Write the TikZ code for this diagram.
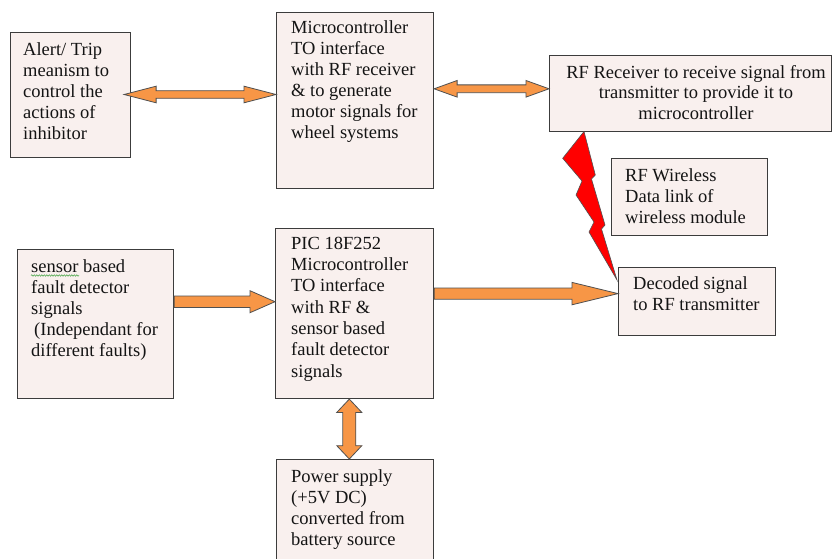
\documentclass[tikz,border=0pt]{standalone}
\usepackage{fontspec}
\setmainfont{Liberation Serif}
\usetikzlibrary{calc,decorations.pathmorphing}
\definecolor{boxfill}{RGB}{249,240,238}
\definecolor{boxline}{RGB}{60,60,60}
\definecolor{orng}{RGB}{247,150,70}
\definecolor{arrline}{RGB}{80,80,80}
\definecolor{txt}{RGB}{20,20,20}
\definecolor{spell}{RGB}{60,160,60}
% double-headed horizontal fat arrow: #1 start coord, #2 end coord, #3 image y, #4 shaft half, #5 head half, #6 head length
\newcommand\fatDouble[6]{%
 \filldraw[fat] let \p1=#1, \p2=#2 in
 (\x1,{-#3pt}) -- ({\x1+#6pt},{-(#3-#5)*1pt}) -- ({\x1+#6pt},{-(#3-#4)*1pt})
 -- ({\x2-#6pt},{-(#3-#4)*1pt}) -- ({\x2-#6pt},{-(#3-#5)*1pt}) -- (\x2,{-#3pt})
 -- ({\x2-#6pt},{-(#3+#5)*1pt}) -- ({\x2-#6pt},{-(#3+#4)*1pt})
 -- ({\x1+#6pt},{-(#3+#4)*1pt}) -- ({\x1+#6pt},{-(#3+#5)*1pt}) -- cycle;}
% single-headed fat arrow pointing right
\newcommand\fatRight[6]{%
 \filldraw[fat] let \p1=#1, \p2=#2 in
 (\x1,{-(#3-#4)*1pt}) -- ({\x2-#6pt},{-(#3-#4)*1pt}) -- ({\x2-#6pt},{-(#3-#5)*1pt})
 -- (\x2,{-#3pt}) -- ({\x2-#6pt},{-(#3+#5)*1pt}) -- ({\x2-#6pt},{-(#3+#4)*1pt})
 -- (\x1,{-(#3+#4)*1pt}) -- cycle;}
\begin{document}
\begin{tikzpicture}[x=1pt,y=-1pt,
  blockbox/.style={draw=boxline, fill=boxfill, line width=1.1pt, inner sep=0pt, anchor=north west},
  lbl/.style={anchor=north west, inner sep=0pt, align=left, text=txt, font=\fontsize{18.5}{21}\selectfont},
  clbl/.style={lbl, align=center, anchor=north},
  fat/.style={fill=orng, draw=arrline, line width=0.8pt, line join=miter},
  bolt/.style={fill=red, draw=arrline, line width=0.6pt, line join=miter}]
\useasboundingbox (0,0) rectangle (832,559);
\clip (0,0) rectangle (832,559);
\fill[white] (0,0) rectangle (832,559);

% boxes
\node[blockbox, minimum width=120pt, minimum height=125pt] (alert) at (10,32) {};
\node[blockbox, minimum width=157pt, minimum height=176pt] (mcu) at (276,12) {};
\node[blockbox, minimum width=282pt, minimum height=76pt] (rx) at (549,55) {};
\node[blockbox, minimum width=156pt, minimum height=77pt] (link) at (611,158) {};
\node[blockbox, minimum width=157pt, minimum height=68pt] (dec) at (618,267) {};
\node[blockbox, minimum width=156pt, minimum height=149pt] (sens) at (17,249) {};
\node[blockbox, minimum width=158pt, minimum height=170pt] (pic) at (275,228) {};
\node[blockbox, minimum width=157pt, minimum height=110pt] (pwr) at (276,459) {};

% fat arrows
\fatDouble{($(alert.east)+(-7,0)$)}{(mcu.west)}{94.5}{3.8}{8.3}{32}
\fatDouble{(mcu.east)}{(rx.west)}{88.8}{3.9}{8.3}{23}
\fatRight{(sens.east)}{(pic.west)}{301.7}{5.7}{11}{25}
\fatRight{(pic.east)}{(dec.west)}{293.6}{5.6}{11.2}{46}
\filldraw[fat] let \p1=(pic.south), \p2=(pwr.north) in
  (349.3pt,\y1) -- (361.8pt,{\y1-13.3pt}) -- (355.8pt,{\y1-13.3pt})
  -- (355.8pt,{\y2+13.3pt}) -- (361.8pt,{\y2+13.3pt}) -- (349.3pt,\y2)
  -- (336.8pt,{\y2+13.3pt}) -- (342.8pt,{\y2+13.3pt})
  -- (342.8pt,{\y1-13.3pt}) -- (336.8pt,{\y1-13.3pt}) -- cycle;

% lightning bolt (wireless link)
\filldraw[bolt] (584,131.5) -- (595.3,175) -- (591.5,179) -- (605,225) -- (601.5,229)
  -- (617,280) -- (589,232) -- (594,222) -- (576,195) -- (582,181) -- (562.7,158.3) -- cycle;

% texts
\node[lbl] (alert-t) at (23,41) {\rule{0pt}{14pt}Alert/ Trip\\meanism to\\control the\\actions of\\inhibitor};
\node[lbl] (mcu-t) at (291,19) {\rule{0pt}{14pt}Microcontroller\\TO interface\\with RF receiver\\\& to generate\\motor signals for\\wheel systems};
\node[clbl, font=\fontsize{18.5}{20.5}\selectfont] (rx-t) at (696,64) {\rule{0pt}{14pt}RF Receiver to receive signal from\\transmitter to provide it to\\microcontroller};
\node[lbl] (link-t) at (625,167) {\rule{0pt}{14pt}RF Wireless\\Data link of\\wireless module};
\node[lbl] (dec-t) at (633,275) {\rule{0pt}{14pt}Decoded signal\\to RF transmitter};
\node[lbl] (sens-t) at (31,258) {\rule{0pt}{14pt}sensor based\\fault detector\\signals\\\hspace*{3pt}(Independant for\\different faults)};
\node[lbl, font=\fontsize{18.5}{21.3}\selectfont] (pic-t) at (291,235) {\rule{0pt}{14pt}PIC 18F252\\Microcontroller\\TO interface\\with RF \&\\sensor based\\fault detector\\signals};
\node[lbl] (pwr-t) at (291,468) {\rule{0pt}{14pt}Power supply\\(+5V DC)\\converted from\\battery source};

% spell-check underline
\draw[spell, line width=0.5pt, decorate, decoration={snake, amplitude=0.7pt, segment length=2.5pt}] (31,275.5) -- (79,275.5);
\end{tikzpicture}
\end{document}
